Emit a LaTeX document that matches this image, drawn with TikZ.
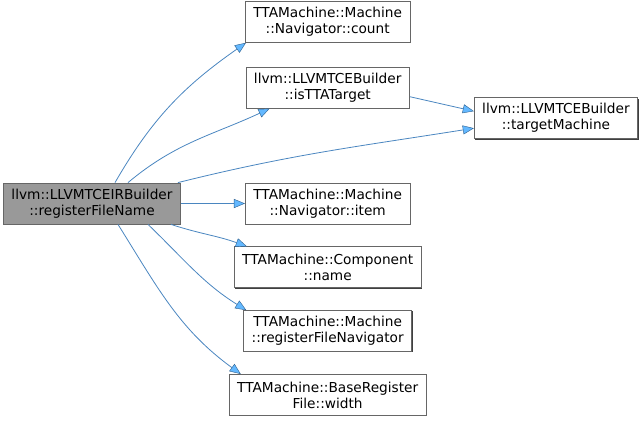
\documentclass[tikz,border=0pt]{standalone}
\usepackage{fontspec}
\setmainfont{DejaVu Sans}
\usetikzlibrary{arrows.meta,positioning,shadows}
\definecolor{rootfill}{HTML}{999999}
\definecolor{boxline}{HTML}{666666}
\definecolor{edgeblue}{HTML}{4A86C0}
\definecolor{tipblue}{HTML}{63B8FF}
\definecolor{tipline}{HTML}{2C5E8C}

\begin{document}
\begin{tikzpicture}[x=1pt,y=1pt,
node distance=22pt and 64pt,
fn/.style={draw=boxline,line width=0.8pt,fill=white,align=center,
  minimum height=41pt,inner xsep=8pt,font=\fontsize{13.7}{16}\selectfont,
  drop shadow={shadow xshift=0.8pt,shadow yshift=-0.8pt,fill=black!75,opacity=1}},
rootfn/.style={fn,fill=rootfill},
call/.style={-{Triangle[length=11pt,width=9pt,fill=tipblue,color=tipline,line width=0.4pt]},
  draw=edgeblue,line width=0.8pt}]
\useasboundingbox (0,0) rectangle (640,-421);
\node[rootfn] (regname) at (92,-203.5) {llvm::LLVMTCEIRBuilder\\::registerFileName};
\node[fn,right=of regname] (item) {TTAMachine::Machine\\::Navigator::item};
\node[fn,above=74pt of item] (istta) {llvm::LLVMTCEBuilder\\::isTTATarget};
\node[fn,above=24pt of istta] (count) {TTAMachine::Machine\\::Navigator::count};
\node[fn,right=of istta,yshift=-30.5pt] (target) {llvm::LLVMTCEBuilder\\::targetMachine};
\node[fn,below=of item] (compname) {TTAMachine::Component\\::name};
\node[fn,below=of compname] (regnav) {TTAMachine::Machine\\::registerFileNavigator};
\node[fn,below=of regnav] (width) {TTAMachine::BaseRegister\\File::width};
% calls from the root
\draw[call] ([xshift=23pt]regname.north) to[out=60,in=215] ([xshift=1pt]count.south west);
\draw[call] ([xshift=36pt]regname.north) to[out=40,in=205] ([xshift=24pt]istta.south west);
\draw[call] ([xshift=-3pt]regname.north east) to[out=14,in=189] ([yshift=-10pt]target.west);
\draw[call] (regname) -- (item);
\draw[call] ([xshift=-10pt]regname.south east) to[out=-18,in=160] ([xshift=13pt]compname.north west);
\draw[call] ([xshift=56pt]regname.south) to[out=-44,in=148] ([xshift=3pt]regnav.north west);
\draw[call] ([xshift=26pt]regname.south) to[out=-58,in=144] ([xshift=12pt]width.north west);
\draw[call] ([yshift=-9pt]istta.east) -- ([yshift=7pt]target.west);
\end{tikzpicture}
\end{document}
